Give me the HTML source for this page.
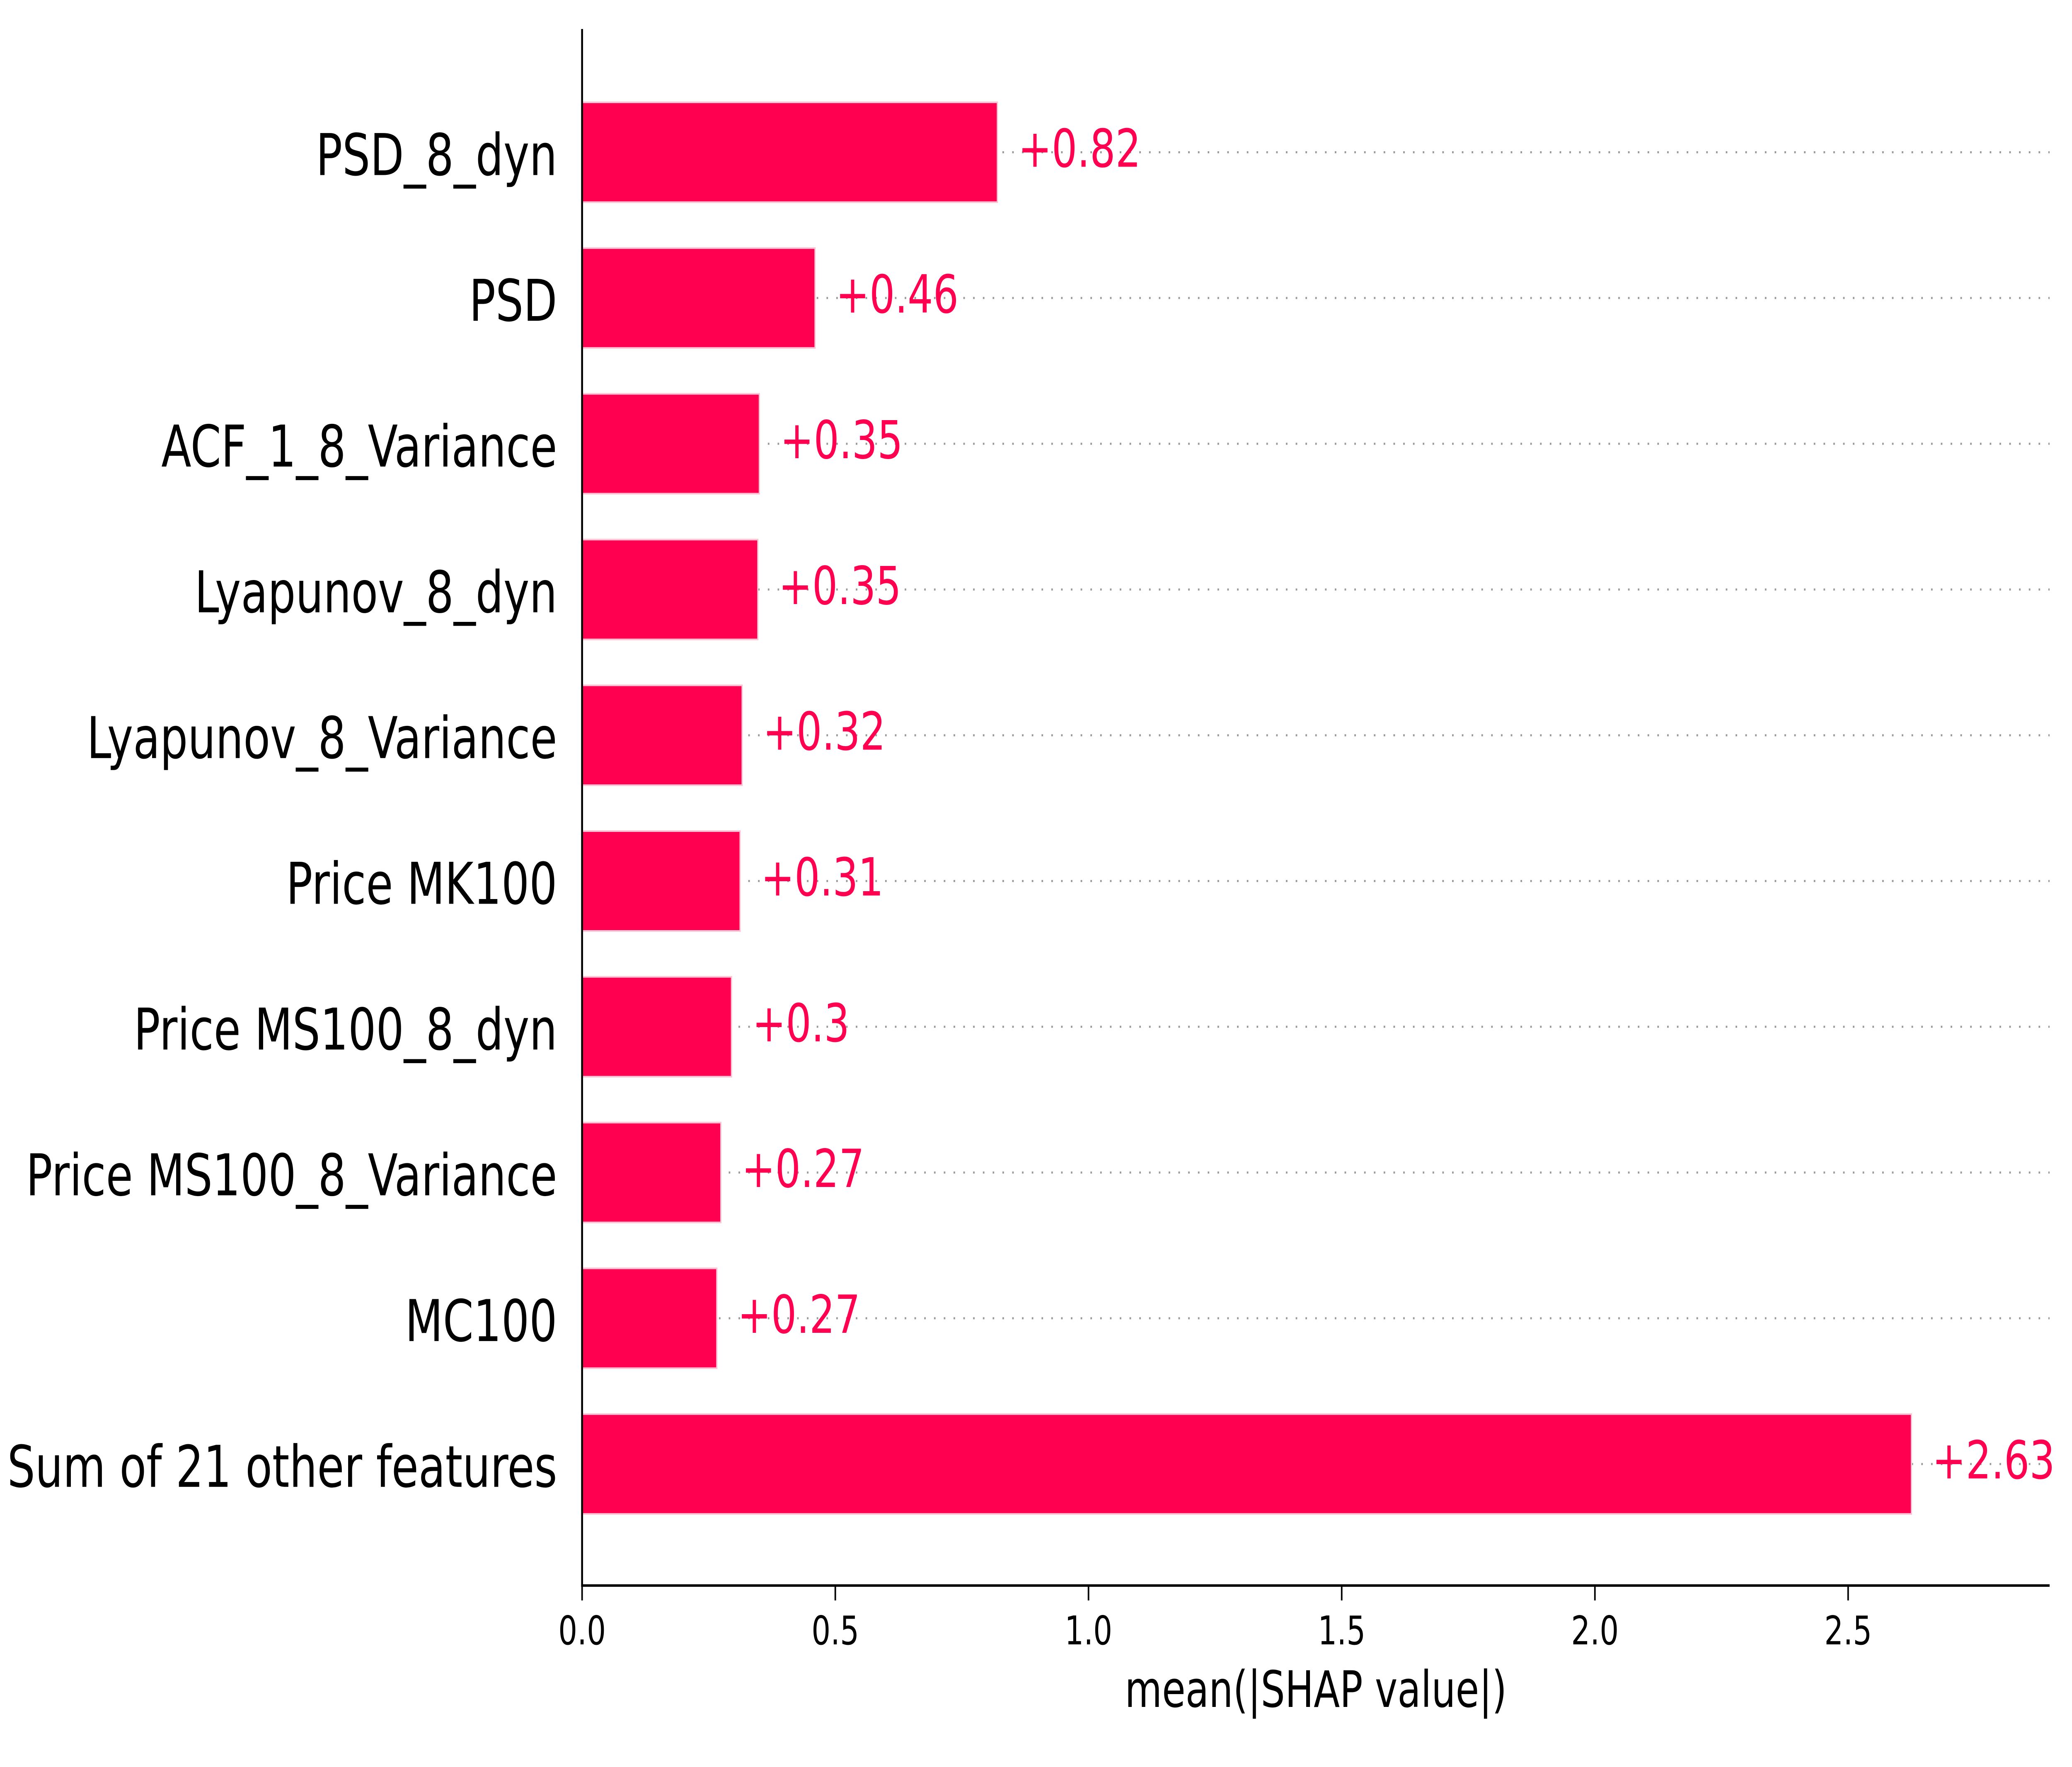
<!DOCTYPE html>
<html><head><meta charset="utf-8"><style>
html,body{margin:0;padding:0;background:#fff;width:100%;height:100%;overflow:hidden;}
svg{display:block;font-family:"DejaVu Sans","Liberation Sans",sans-serif;width:100vw;height:100vh;}
</style></head><body>
<svg id="chart" viewBox="0 0 6571 4265" preserveAspectRatio="none" xmlns="http://www.w3.org/2000/svg">
<g id="grid"></g>
<g id="bars"></g>
<g id="labels"></g>
<g id="ylabels"></g>
<g id="xaxis"></g>
<line x1="1846" y1="70" x2="1846" y2="3830" stroke="#000" stroke-width="6"/>
<text x="4173" y="4120" font-size="121" text-anchor="middle">mean(|SHAP value|)</text>
</svg>
<script>
const features = ["PSD_8_dyn","PSD","ACF_1_8_Variance","Lyapunov_8_dyn","Lyapunov_8_Variance","Price MK100","Price MS100_8_dyn","Price MS100_8_Variance","MC100","Sum of 21 other features"];
const values = [0.82,0.46,0.35,0.347,0.316,0.312,0.295,0.274,0.266,2.625];
const valueLabels = ["+0.82","+0.46","+0.35","+0.35","+0.32","+0.31","+0.3","+0.27","+0.27","+2.63"];
const xTicks = [0,0.5,1,1.5,2,2.5];
const xTickLabels = ["0.0","0.5","1.0","1.5","2.0","2.5"];

const NS="http://www.w3.org/2000/svg";
const x0=1846, pxPerUnit=1606, xEnd=6500;
const xs = v => x0 + v*pxPerUnit;
const rowTop=367.5, rowStep=351.8;
const ys = i => rowTop + i*rowStep;
const barH=241;
function mk(tag, parent, attrs){const e=document.createElementNS(NS,tag);for(const k in attrs)e.setAttribute(k,attrs[k]);parent.appendChild(e);return e;}
const grid=document.getElementById('grid'),bars=document.getElementById('bars'),labels=document.getElementById('labels'),ylab=document.getElementById('ylabels'),xax=document.getElementById('xaxis');
features.forEach((f,i)=>{
  const cy=ys(i);
  const g=mk('line',grid,{x1:x0,y1:cy,x2:xEnd,y2:cy,stroke:'#999','stroke-width':5,'stroke-dasharray':'5 26'});
  
  
  const b=mk('rect',bars,{x:x0,y:cy-barH/2,width:xs(values[i])-x0,height:barH,fill:'#ff0051',stroke:'#ffc3d5','stroke-width':4});
  
  
  const t=mk('text',labels,{x:xs(values[i])+66,y:cy+35,'font-size':127,fill:'#ff0051'});
  t.textContent=valueLabels[i];
  
  
  const yl=mk('text',ylab,{x:1767,y:cy+55,'font-size':139,'text-anchor':'end',fill:'#000'});
  yl.textContent=f;
  
  
});
const sp=mk('line',xax,{x1:x0-3,y1:3827,x2:xEnd,y2:3827,stroke:'#000','stroke-width':6});


xTicks.forEach((v,i)=>{
  const tk=mk('line',xax,{x1:xs(v),y1:3827,x2:xs(v),y2:3863,stroke:'#000','stroke-width':5});
  
  
  const tl=mk('text',xax,{x:xs(v),y:3969,'font-size':95,'text-anchor':'middle',fill:'#000'});
  tl.textContent=xTickLabels[i];
  
  
});
</script>
</body></html>
